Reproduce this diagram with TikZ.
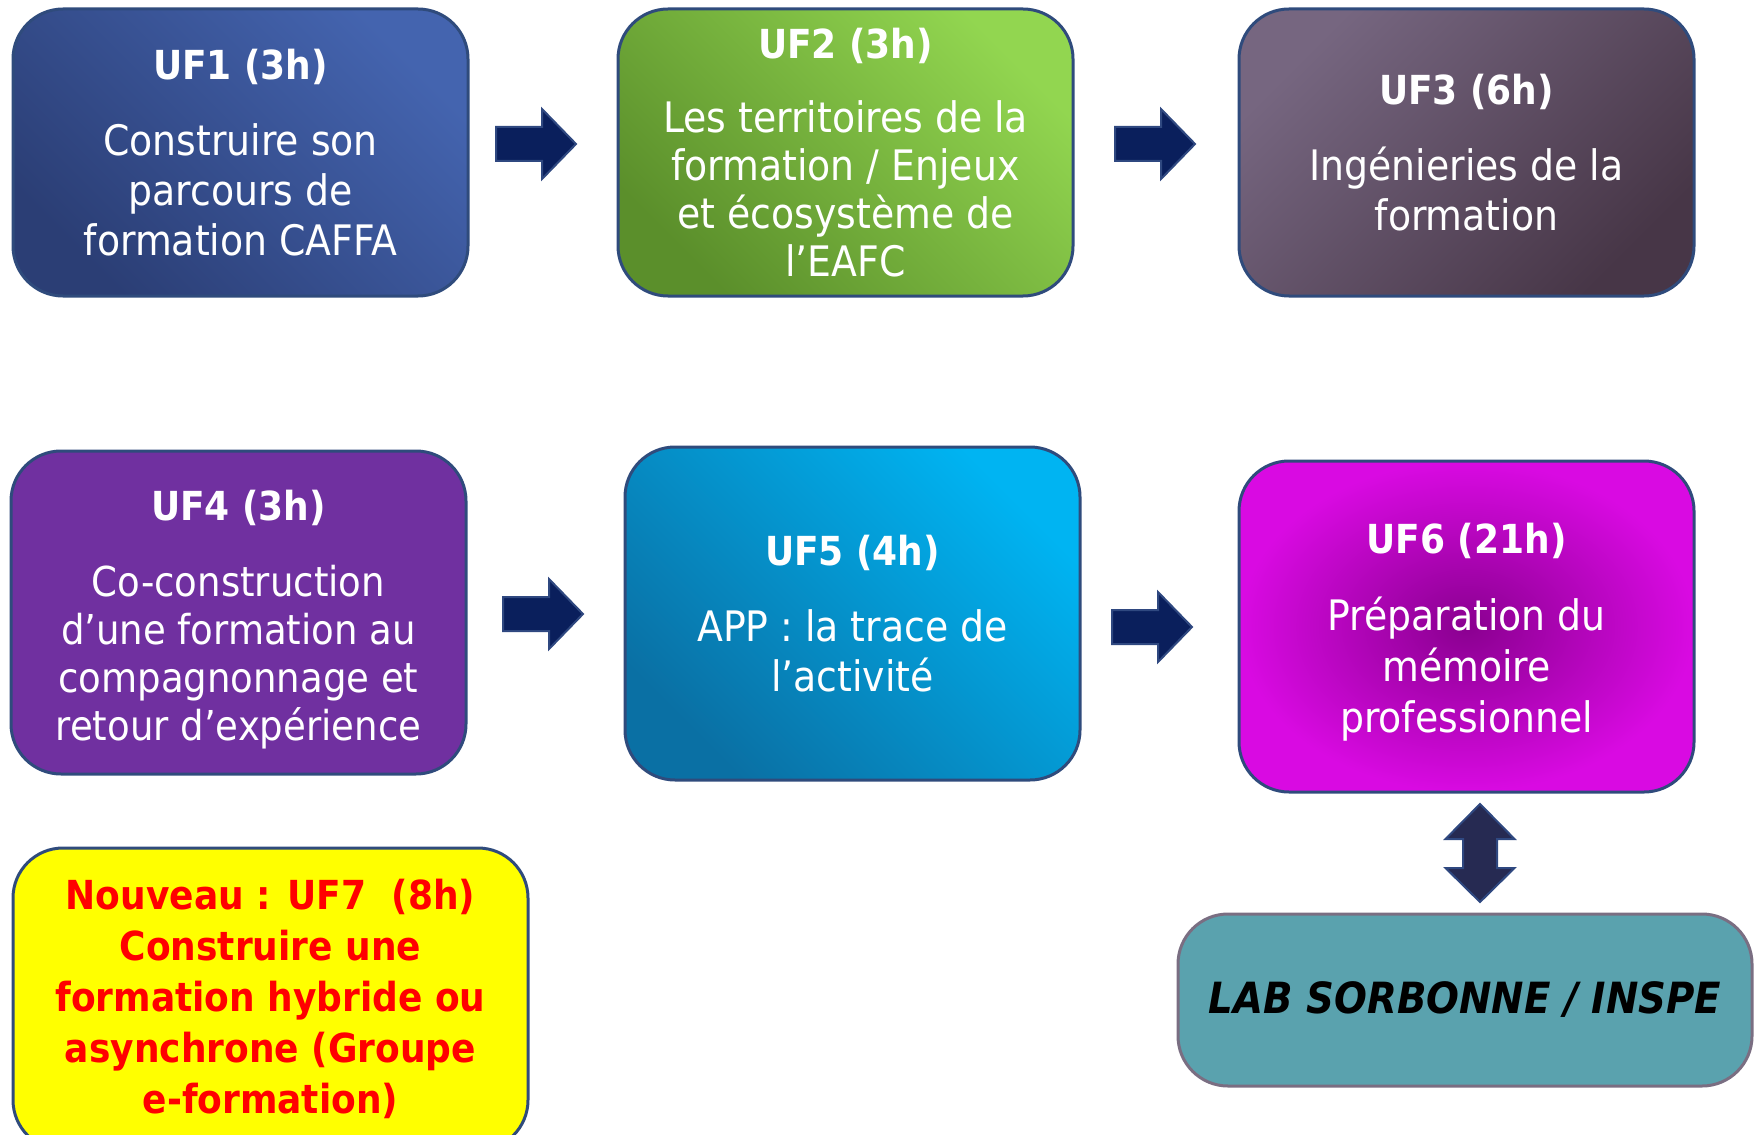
\documentclass[tikz,border=0pt]{standalone}
\usepackage{fontspec}
\setmainfont{DejaVu Sans Condensed}
\usepackage{tikz}
\usetikzlibrary{calc}

\definecolor{waku}{HTML}{2F4B7C}
\definecolor{yfill}{HTML}{0A1F5C}
\definecolor{yline}{HTML}{2F4880}
\definecolor{jfill}{HTML}{262A52}
\definecolor{labfill}{HTML}{5AA2AE}
\definecolor{labline}{HTML}{7A6E82}
\definecolor{ufA}{HTML}{2B3E75}
\definecolor{ufB}{HTML}{4464AF}
\definecolor{vertA}{HTML}{5B8F2B}
\definecolor{vertB}{HTML}{92D650}
\definecolor{grisA}{HTML}{766680}
\definecolor{grisB}{HTML}{473647}
\definecolor{violetuf}{HTML}{7030A0}
\definecolor{bleuA}{HTML}{0A70A4}
\definecolor{bleuB}{HTML}{00B4F2}
\definecolor{roseA}{HTML}{8A0090}
\definecolor{roseB}{HTML}{D90AE2}
\definecolor{jaune}{HTML}{FFFF00}
\definecolor{rouge}{HTML}{FF0000}

\newcommand{\uftitle}[1]{{\fontsize{20}{25}\selectfont\bfseries #1}} % 見出し

\begin{document}
\begin{tikzpicture}[x=0.5pt, y=-0.5pt, % 1単位 = 画像の1px
  box/.style={draw=waku, line width=1.5pt, rounded corners=25pt, text=white, align=center,
    font=\fontsize{21}{25}\selectfont, inner sep=0pt, minimum width=227.5pt},
  yajirushi/.style={fill=yfill, draw=yline, line width=1pt},
  migi/.pic={\draw[yajirushi] (-40,-17) -- (6,-17) -- (6,-35) -- (40,0) -- (6,35) -- (6,17) -- (-40,17) -- cycle;}, % 右向き矢印
  jouge/.pic={\draw[yajirushi, fill=jfill] (-17,-14) -- (-34.5,-14) -- (0,-49) -- (34.5,-14) -- (17,-14)
    -- (17,15) -- (34.5,15) -- (0,49) -- (-34.5,15) -- (-17,15) -- cycle;}] % 上下矢印
  \path[use as bounding box, clip] (0,0) rectangle (1754,1134); % 画像の大きさ

  % 1段目
  \node[box, minimum height=143.5pt, bottom color=ufA, top color=ufB, shading angle=-45] (uf1) at (240.5,152.5)
    {\uftitle{UF1 (3h)}\\[13pt] Construire son\\ parcours de\\ formation CAFFA};
  \node[box, minimum height=143.5pt, bottom color=vertA, top color=vertB, shading angle=-45,
    font=\fontsize{21}{24}\selectfont] (uf2) at (845.5,152.5)
    {\uftitle{UF2 (3h)}\\[13pt] Les territoires de la\\ formation / Enjeux\\ et écosystème de\\ l’EAFC};
  \node[box, minimum height=143.5pt, bottom color=grisB, top color=grisA, shading angle=45] (uf3) at (1466.5,152.5)
    {\uftitle{UF3 (6h)}\\[13pt] Ingénieries de la\\ formation};

  % 2段目
  \node[box, minimum height=161.5pt, fill=violetuf, font=\fontsize{20.6}{24}\selectfont] (uf4) at (238.5,612.5)
    {\rule{0pt}{22pt}\uftitle{UF4 (3h)}\\[14pt] Co-construction\\ d’une formation au\\ compagnonnage et\\ retour d’expérience};
  \node[box, minimum height=166.5pt, bottom color=bleuA, top color=bleuB, shading angle=-45] (uf5) at (852.5,613.5)
    {\uftitle{UF5 (4h)}\\[13pt] APP : la trace de\\ l’activité};
  \node[box, minimum height=165.5pt, inner color=roseA, outer color=roseB, font=\fontsize{21}{25.5}\selectfont] (uf6) at (1466.5,626.5)
    {\rule{0pt}{21pt}\uftitle{UF6 (21h)}\\[13pt] Préparation du\\ mémoire\\ professionnel};

  % 3段目
  \node[box, minimum width=257.5pt, minimum height=151pt, fill=jaune, text=rouge, font=\fontsize{20}{25.5}\selectfont\bfseries] (uf7) at (270.5,999)
    {Nouveau : UF7\ \ (8h)\\ Construire une\\ formation hybride ou\\ asynchrone (Groupe\\ e-formation)};
  \node[box, minimum width=287pt, minimum height=86pt, fill=labfill, draw=labline, text=black,
    font=\fontsize{21.5}{26}\selectfont\bfseries\itshape] (lab) at (1465,1000) {LAB SORBONNE / INSPE};

  % 矢印
  \pic at (536,144) {migi};
  \pic at (1155,144) {migi};
  \pic at (543,614) {migi};
  \pic at (1152,627) {migi};
  \pic at (1480,853) {jouge};
\end{tikzpicture}
\end{document}
